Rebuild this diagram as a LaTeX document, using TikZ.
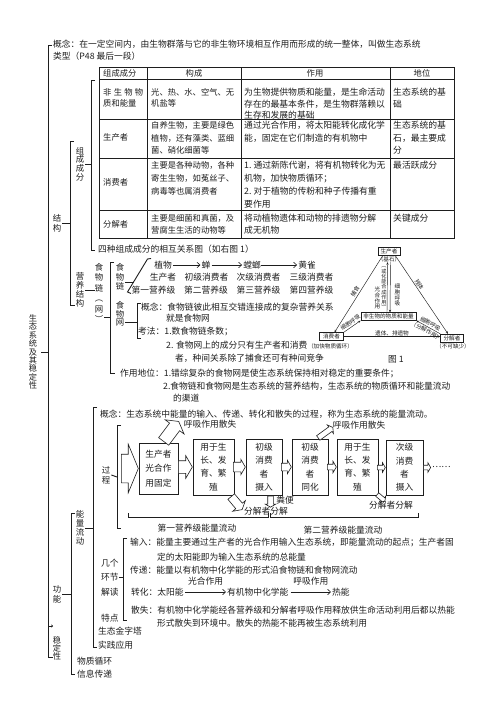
\documentclass[tikz,border=0pt]{standalone}
\usepackage{fontspec}
\setmainfont{Noto Sans CJK SC}
\usetikzlibrary{arrows.meta,shapes.arrows,calc}
\definecolor{ink}{HTML}{1E1E1E}
\newcommand{\fsA}{\fontsize{8.75}{12}\selectfont}
\newcommand{\fsT}{\fontsize{8.3}{12.5}\selectfont}
\newcommand{\fsW}{\fontsize{8.8}{12.5}\selectfont}
\newcommand{\fsV}{\fontsize{8.4}{9}\selectfont}
\newcommand{\fsVw}{\fontsize{8.4}{10}\selectfont}
\newcommand{\fsS}{\fontsize{5.6}{5.9}\selectfont}
\newcommand{\fsB}{\fontsize{8.7}{13.4}\selectfont}
\newcommand{\fsBa}{\fontsize{8.7}{14.5}\selectfont}
\begin{document}
\begin{tikzpicture}[x=1pt,y=-1pt,
 tx/.style={anchor=west,inner sep=0,font=\fsA,text=ink},
 tc/.style={inner sep=0,font=\fsA,text=ink},
 ml/.style={anchor=north west,inner sep=0,align=left,font=\fsT,text=ink},
 mlw/.style={ml,font=\fsW},
 vl/.style={align=center,inner sep=0,font=\fsV,text=ink},
 vlw/.style={vl,font=\fsVw},
 vls/.style={align=center,inner sep=0,font=\fsS,text=ink},
 brk/.style={draw=ink,line width=0.9pt},
 tbl/.style={draw=ink,line width=0.7pt},
 carr/.style={draw=ink,line width=0.6pt,-{Straight Barb[length=3pt,width=5.5pt]}},
 ebox/.style={draw=ink,line width=0.7pt,inner sep=0,align=center,font=\fsB,text=ink},
 harr/.style={single arrow,draw=ink,fill=white,line width=0.6pt,inner xsep=0pt,single arrow tip angle=120},
 fbox/.style={draw=ink,line width=0.5pt,inner xsep=2.5pt,inner ysep=1.3pt,font=\fsS,text=ink},
 farr/.style={draw=ink,line width=0.45pt,-{Stealth[length=2.6pt,width=2.2pt]}},
 fl/.style={font=\fsS,inner sep=0.8pt,text=ink},
]
\fill[white] (0,0) rectangle (496,702);
\useasboundingbox (0,0) rectangle (496,702);

% ---------- top ----------
\node[tx] (concept) at (53,44) {概念：在一定空间内，由生物群落与它的非生物环境相互作用而形成的统一整体，叫做生态系统};
\node[tx] (types) at (53,56) {类型（P48 最后一段）};

% main bracket
\draw[brk] (52,45) -- (48,45) -- (48,657) -- (53,657);
\node[vl,font=\fontsize{8.2}{8.4}\selectfont] (root) at (33,352) {生\\态\\系\\统\\及\\其\\稳\\定\\性};
\draw[brk] ([xshift=4pt]root.east) -- (48,352);

% 结构
\draw[brk] (74,141) -- (70,141) -- (70,305) -- (75,305);
\node[vlw] (jg) at (57,223) {结\\构};
\draw[brk] ([xshift=1pt]jg.east) -- (70,223);

% 组成成分
\draw[brk] (95,80) -- (91,80) -- (91,250) -- (95,250);
\node[vl,font=\fontsize{8.4}{8.6}\selectfont] (zc) at (80,164) {组\\成\\成\\分};
\draw[brk] ([xshift=1pt]zc.east) -- (91,164);

% table
\draw[tbl] (99,67) rectangle (454,238);
\foreach \xx in {147,241,390} \draw[tbl] (\xx,67) -- (\xx,238);
\foreach \yy in {79,119,158,210} \draw[tbl] (99,\yy) -- (454,\yy);
\node[tx,font=\fsT] (h1) at (103,73) {组成成分};
\node[tc,font=\fsT] (h2) at (194,73) {构成};
\node[tc,font=\fsT] (h3) at (315,73) {作用};
\node[tc,font=\fsT] (h4) at (422,73) {地位};

\node[ml,font=\fontsize{8.3}{11.5}\selectfont] (r1a) at (103,88) {\makebox[40pt][s]{非\hfill 生\hfill 物\hfill 物}\\质和能量};
\node[ml,font=\fontsize{8.3}{11.5}\selectfont] (r1b) at (151,88) {光、热、水、空气、无\\机盐等};
\node[mlw,font=\fontsize{8.8}{11.5}\selectfont] (r1c) at (244,88) {为生物提供物质和能量，是生命活动\\存在的最基本条件，是生物群落赖以\\生存和发展的基础};
\node[mlw,font=\fontsize{8.8}{11.5}\selectfont] (r1d) at (393,88) {生态系统的基\\础};

\node[tx,font=\fsT] (r2a) at (103,137) {生产者};
\node[ml] (r2b) at (151,121.3) {自养生物，主要是绿色\\植物，还有藻类、蓝细\\菌、硝化细菌等};
\node[mlw] (r2c) at (244,121.3) {通过光合作用，将太阳能转化成化学\\能，固定在它们制造的有机物中};
\node[mlw] (r2d) at (393,121.3) {生态系统的基\\石，最主要成\\分};

\node[tx,font=\fsT] (r3a) at (103,182) {消费者};
\node[ml,font=\fontsize{8.3}{13}\selectfont] (r3b) at (151,161.3) {主要是各种动物，各种\\寄生生物，如菟丝子、\\病毒等也属消费者};
\node[mlw,font=\fontsize{8.8}{13}\selectfont] (r3c) at (244,161.3) {1.\ 通过新陈代谢，将有机物转化为无\\机物，加快物质循环；\\2.\ 对于植物的传粉和种子传播有重\\要作用};
\node[mlw] (r3d) at (393,161.3) {最活跃成分};

\node[tx,font=\fsT] (r4a) at (103,224) {分解者};
\node[ml,font=\fontsize{8.3}{12}\selectfont] (r4b) at (151,214.3) {主要是细菌和真菌，及\\营腐生生活的动物等};
\node[mlw,font=\fontsize{8.8}{12}\selectfont] (r4c) at (244,214.3) {将动植物遗体和动物的排遗物分解\\成无机物};
\node[mlw] (r4d) at (393,214.3) {关键成分};

\node[tx] (rel) at (98,249) {四种组成成分的相互关系图（如右图 1）};

% 营养结构
\node[vl] (yy) at (80,290) {营\\养\\结\\构};
\node[vlw,font=\fontsize{8.4}{10.5}\selectfont] (sl) at (99,293) {食\\物\\链\\︵\\网\\︶};
\draw[brk] ([xshift=0.5pt]yy.east) -- (yy.east -| sl.west);
\draw[brk] (114,262) -- (110,262) -- (110,373) -- (115,373);
\draw[brk] (104,317) -- (110,317);

% 食物链
\node[vl,font=\fontsize{8.4}{9.5}\selectfont] (sc) at (120,277) {食\\物\\链};
\draw[brk] (151,258.5) -- (147.5,259) -- (127.5,292) -- (131,293.5);
\draw[brk] (125,282) -- (133.5,282);
\node[tc] (fc1) at (163,265) {植物};
\node[tc] (fc2) at (206,265) {蝉};
\node[tc] (fc3) at (252,265) {螳螂};
\node[tc] (fc4) at (307,265) {黄雀};
\draw[carr] ([xshift=1pt]fc1.east) -- ([xshift=-1pt]fc2.west);
\draw[carr] ([xshift=1pt]fc2.east) -- ([xshift=-1pt]fc3.west);
\draw[carr] ([xshift=0pt]fc3.east) -- ([xshift=-1pt]fc4.west);
\node[tc] (lv1) at (163,277) {生产者};
\node[tc] (lv2) at (206.5,277) {初级消费者};
\node[tc] (lv3) at (258.5,277) {次级消费者};
\node[tc] (lv4) at (311.5,277) {三级消费者};
\node[tc] (tl1) at (153.5,290) {第一营养级};
\node[tc] (tl2) at (206,290) {第二营养级};
\node[tc] (tl3) at (258.5,290) {第三营养级};
\node[tc] (tl4) at (311.5,290) {第四营养级};

% 食物网
\node[vl,font=\fontsize{8.4}{8.6}\selectfont] (sw) at (120,314) {食\\物\\网};
\draw[brk] (141,303) -- (137,303) -- (137,338) -- (141,338);
\draw[brk] (125,322) -- (137,322);
\node[tx] (fw1) at (141,307) {概念：食物链彼此相互交错连接成的复杂营养关系};
\node[tx] (fw2) at (166,318) {就是食物网};
\node[tx] (fw3) at (138,331) {考法：1.数食物链条数；};
\node[tx] (fw4) at (166,345) {2. 食物网上的成分只有生产者和消费};
\node[tx] (fw5) at (175,358) {者，种间关系除了捕食还可有种间竞争};
\node[tx] (ro1) at (120,373) {作用地位：1.错综复杂的食物网是使生态系统保持相对稳定的重要条件；};
\node[tx] (ro2) at (163,386) {2.食物链和食物网是生态系统的营养结构，生态系统的物质循环和能量流动};
\node[tx] (ro3) at (173,398) {的渠道};

% figure 1
\node[fbox] (fp) at (389,251) {生产者};
\node[fl,inner sep=0.3pt] (fpk) at (389,259) {（基石）};
\node[fbox] (fn) at (388.5,316.5) {非生物的物质和能量};
\node[fbox,inner xsep=3.5pt] (fc) at (331.5,336.5) {消费者};
\node[fbox,inner xsep=3pt] (fd) at (452,338) {分解者};
\node[fl,inner sep=0] (fcl) at (330.5,346.5) {（加快物质循环）};
\node[fl,inner sep=0] (fdl) at (453,346.5) {（不可缺少）};
\node[tc] (fig1) at (396,359) {图 1};
\draw[farr] ([xshift=-6pt]fp.south) -- ([xshift=3pt]fc.north) node[fl,sloped,pos=0.5,above,inner sep=1.5pt] {捕食};
\draw[farr] ([xshift=6pt]fp.south) -- ([xshift=-4pt]fd.north) node[fl,sloped,pos=0.4,above] {残体};
\draw[farr] ([xshift=-1.5pt]fn.north) -- ([xshift=-1.5pt]fpk.south);
\draw[farr] ([xshift=1.5pt]fpk.south) -- ([xshift=1.5pt]fn.north);
\node[vls] (lgh) at (377.5,298) {光\\合\\作\\用};
\node[vls,font=\fontsize{5.1}{5.25}\selectfont] (lhn) at (384,288.5) {︵\\或\\化\\能\\合\\成\\作\\用\\︶};
\node[vls] (lxb) at (397.5,295) {细\\胞\\呼\\吸};
\draw[farr] (fc.north east) -- (fn.south west) node[fl,sloped,pos=0.55,above,inner sep=1.6pt] {细胞呼吸};
\draw[farr] (fd.north west) -- (fn.south east) node[fl,sloped,midway,above,inner sep=1.2pt] {细胞呼吸} node[fl,sloped,midway,below,inner sep=1.2pt] {（分解作用）};
\draw[farr] (fc.east) -- (fc.east -| fd.west) node[fl,midway,above] {遗体、排遗物};

% ---------- 功能 ----------
\draw[brk] (75,513) -- (71,513) -- (71,674) -- (75,674);
\node[vlw] (gn) at (57,594) {功\\能};
\draw[brk] ([xshift=1pt]gn.east) -- (71,594);
\node[vl,font=\fontsize{8.2}{8}\selectfont] (wd) at (57,648) {稳\\定\\性};
\draw[draw=ink,line width=0.6pt,-{To[length=2pt,width=3pt]}] (48,626) -- (53,626);
\node[tx] (wz) at (77,661) {物质循环};
\node[tx] (xx) at (77,674) {信息传递};

% 能量流动
\draw[brk] (97,407) -- (93,407) -- (93,647) -- (97,647);
\node[vl] (nl) at (80,528) {能\\量\\流\\动};
\draw[brk] ([xshift=1pt]nl.east) -- (93,528);
\node[tx] (ec) at (100,414) {概念：生态系统中能量的输入、传递、转化和散失的过程，称为生态系统的能量流动。};

% 过程
\draw[brk] (121,425) -- (117,425) -- (117,528) -- (121,528);
\node[vlw] (gc) at (106,475) {过\\程};
\draw[brk] ([xshift=1pt]gc.east) -- (117,477);

\node[ebox,font=\fsBa,minimum width=39pt,minimum height=51pt] (b1) at (158.5,468.5) {生产者\\光合作\\用固定};
\node[ebox,minimum width=41pt,minimum height=56pt] (b2) at (213.5,467) {用于生\\长、发\\育、繁\\殖};
\node[ebox,minimum width=36pt,minimum height=56pt] (b3) at (264,467) {初级\\消费\\者\\摄入};
\node[ebox,minimum width=36pt,minimum height=56pt] (b4) at (310,467) {初级\\消费\\者\\同化};
\node[ebox,minimum width=41pt,minimum height=56pt] (b5) at (357.5,467) {用于生\\长、发\\育、繁\\殖};
\node[ebox,minimum width=37pt,minimum height=55pt] (b6) at (404.5,467.5) {次级\\消费\\者\\摄入};

\node[harr,single arrow tip angle=135,inner ysep=14pt,single arrow head extend=10pt,minimum height=17pt,anchor=tip] (ain) at (b1.west) {};
\node[harr,inner ysep=6pt,single arrow head extend=5pt,minimum height=14pt,anchor=tip] (a12) at (b2.west) {};
\node[harr,inner ysep=4.5pt,single arrow head extend=3pt,minimum height=12pt,anchor=tip] (a23) at (b3.west) {};
\node[harr,inner ysep=3.5pt,single arrow head extend=3pt,minimum height=10pt,anchor=tip] (a34) at (b4.west) {};
\node[harr,inner ysep=2.5pt,single arrow head extend=3pt,minimum height=9pt,anchor=tip] (a45) at (b5.west) {};
\node[harr,inner ysep=2pt,single arrow head extend=2.5pt,minimum height=8pt,anchor=tip] (a56) at (b6.west) {};
\node[harr,inner ysep=2pt,single arrow head extend=2.5pt,minimum height=7pt,anchor=tail] (a6x) at (b6.east) {};
\node[tx] (dots) at (432,467) {……};

\node[harr,inner ysep=6pt,single arrow head extend=5.5pt,minimum height=25pt,anchor=tail,rotate=53] (up1) at ($(b1.north)+(5,-1)$) {};
\node[harr,inner ysep=2.5pt,single arrow head extend=2.5pt,minimum height=18pt,anchor=tail,rotate=36] (up2) at ($(b4.north)+(8,-0.5)$) {};
\node[harr,inner ysep=4pt,single arrow head extend=4pt,minimum height=17pt,anchor=tail,rotate=-50] (dn1) at ($(b2.south)+(17.5,1)$) {};
\node[harr,inner ysep=2.5pt,single arrow head extend=2.5pt,minimum height=11pt,anchor=tail,rotate=-90] (dn2) at ($(b3.south)+(6.5,0.5)$) {};
\node[harr,inner ysep=2pt,single arrow head extend=2pt,minimum height=10pt,anchor=tail,rotate=-40] (dn3) at ($(b5.south)+(19.5,-1)$) {};

\node[tc] (hx1) at (210,424) {呼吸作用散失};
\node[tc] (hx2) at (359,425) {呼吸作用散失};
\node[tc] (fj1) at (266,511) {分解者分解};
\node[tc] (fb) at (285,500) {粪便};
\node[tc] (fj2) at (391,505) {分解者分解};

\draw[draw=ink,line width=0.7pt] (128,513) -- (128,517.5) -- (268,517.5) -- (268,513);
\draw[draw=ink,line width=0.7pt] (270,513) -- (270,517.5) -- (418,517.5) -- (418,513);
\node[tc] (lf1) at (197,528) {第一营养级能量流动};
\node[tc] (lf2) at (343,530) {第二营养级能量流动};

% 几个环节解读
\draw[brk] (127,538) -- (123,538) -- (123,620) -- (127,620);
\node[tx] (jg1) at (101,563) {几个};
\node[tx] (jg2) at (101,577) {环节};
\node[tx] (jg3) at (101,592) {解读};
\node[tx] (jg4) at (101,618) {特点};
\draw[brk] (jg2.east) -- (123,577);
\node[tx] (in1) at (130,543) {输入：能量主要通过生产者的光合作用输入生态系统，即能量流动的起点；生产者固};
\node[tx] (in2) at (157,557) {定的太阳能即为输入生态系统的总能量};
\node[tx] (tr1) at (130,570) {传递：能量以有机物中化学能的形式沿食物链和食物网流动};
\node[tx] (zh) at (131,592) {转化：太阳能};
\node[tx] (org) at (227,592) {有机物中化学能};
\node[tx] (heat) at (332,592) {热能};
\draw[carr] ([xshift=1.5pt]zh.east) -- ([xshift=-1pt]org.west) node[tc,midway,yshift=11pt] {光合作用};
\draw[carr] ([xshift=2pt]org.east) -- ([xshift=-1pt]heat.west) node[tc,midway,yshift=11pt] {呼吸作用};
\node[tx] (ss1) at (131,610) {散失：有机物中化学能经各营养级和分解者呼吸作用释放供生命活动利用后都以热能};
\node[tx] (ss2) at (157,623) {形式散失到环境中。散失的热能不能再被生态系统利用};
\node[tx] (jz) at (98,631) {生态金字塔};
\node[tx] (sj) at (98,645) {实践应用};
\end{tikzpicture}
\end{document}
